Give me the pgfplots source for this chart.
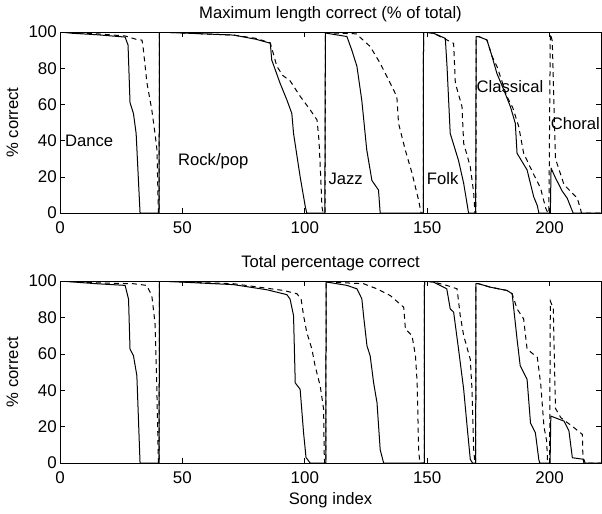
\documentclass[border=0pt]{standalone}
\usepackage{pgfplots}
\pgfplotsset{compat=1.18}
\usepackage{fontspec}
\setmainfont{Liberation Sans}
\begin{document}
\begin{tikzpicture}
\path[use as bounding box] (0,0) rectangle (602bp,-514bp);
\pgfplotsset{
  myax/.style={
    scale only axis, width=541bp,
    xmin=0, xmax=221, ymin=0, ymax=100,
    xtick={0,50,100,150,200}, ytick={0,20,40,60,80,100},
    tick align=inside, major tick length=5bp,
    xtick pos=both, ytick pos=both,
    xticklabel pos=bottom, yticklabel pos=left,
    axis line style={line width=0.6bp},
    tick style={line width=0.6bp, black},
    /pgf/number format/assume math mode=true,
    tick label style={font=\fontsize{17}{20}\selectfont},
    xticklabel style={anchor=base, yshift=-20bp, inner sep=0pt},
    yticklabel style={anchor=east, xshift=-3bp, inner sep=0pt},
    every axis title/.style={at={(0.5,1)}, anchor=base, yshift=13.5bp, font=\fontsize{16.7}{19}\selectfont},
    every axis y label/.style={at={(axis description cs:-0.0776,0.5)}, rotate=90, anchor=base, font=\fontsize{16.7}{19}\selectfont},
    every axis x label/.style={at={(axis description cs:0.5,0)}, anchor=base, yshift=-41bp, font=\fontsize{16.7}{19}\selectfont},
    ylabel={\% correct},
  },
  sol/.style={black, line width=1bp, no marks, line join=round},
  das/.style={black, line width=1bp, no marks, dash pattern=on 5bp off 4bp},
}
% ---------------- top panel ----------------
\begin{axis}[myax, height=181bp, at={(60bp,-32bp)}, anchor=north west,
  title={Maximum length correct (\% of total)}]
\addplot[sol] coordinates {
(0,100) (5,99.3) (15,98.5) (26.6,97.2) (27.8,92.8) (28.6,61) (30,55) (31.1,44) (32.7,0) (40.5,0)
(40.6,100) (43.6,99.8) (70.9,98.3) (80,96) (85.9,93.8) (86.5,84.5) (89.9,71.7) (92.7,62.4) (94.7,55) (95.4,44) (98.1,20) (100.2,3.5) (100.8,0) (108.2,0)
(108.4,100) (109,99.3) (117.2,97.5) (119.2,90) (121.3,81) (123.3,62) (125.3,35) (127.4,18) (130.1,12.7) (130.8,0) (148.4,0)
(148.5,100) (152.6,99.3) (157.4,96.5) (158.1,81) (159.4,44) (162.8,29) (164.9,16.4) (166.9,0) (169.8,0)
(170,97.5) (171,97.5) (174.4,95.6) (176.5,86.5) (178.5,77) (181.3,68) (184,58.7) (186,49.5) (186.7,33) (190.8,23.8) (193.5,9) (195,4) (195.6,0) (200.3,0)
(200.6,24.8) (202.4,19.4) (205.2,12) (207.2,8.2) (209.3,1) (209.6,0) (221,0)
};
\addplot[das] coordinates {
(0,100) (15,99) (26.6,97.8) (31,96) (33.5,95.5) (34,91) (35.5,72) (37.5,57) (38.8,44) (39.6,35) (40.2,0) (40.5,0)
(40.6,100) (43.6,99.8) (70.9,98.3) (80,96.5) (85.9,94) (88.6,81) (91,76) (94,73) (98.2,64.3) (102.2,57) (105,51.4) (105.8,40) (106.5,20) (107,3.5) (107.5,0) (108.3,0)
(108.4,100) (109,99.5) (121,99) (126.7,92) (130.8,82.7) (134.9,71.7) (137.6,64.3) (138.3,49.5) (141,35) (143.8,22) (146.5,7) (147.5,0) (148.4,0)
(148.5,100) (152.6,99.3) (157.5,96) (160.8,93.7) (161.5,71.7) (164.2,58.9) (164.9,38.5) (167.6,25.6) (169,11) (169.5,0) (169.9,0)
(170,97.5) (171,97.5) (174.4,95.6) (176.5,86.5) (178.5,81) (182.6,64.3) (185,58) (187.4,47.7) (189.4,33) (193.6,21) (196.3,13.8) (198.4,2.7) (199.3,0) (199.7,0)
(200.3,99) (201.1,95) (202.4,30) (205.9,15.6) (211.3,8.2) (212.7,1.8) (213,0) (221,0)
};
\node[anchor=west, font=\fontsize{16.7}{19}\selectfont, inner sep=0pt] at (axis cs:2,39.8) {Dance};
\node[font=\fontsize{16.7}{19}\selectfont, inner sep=0pt] at (axis cs:62.6,28.7) {Rock/pop};
\node[font=\fontsize{16.7}{19}\selectfont, inner sep=0pt] at (axis cs:116.7,18.8) {Jazz};
\node[font=\fontsize{16.7}{19}\selectfont, inner sep=0pt] at (axis cs:156.3,18.8) {Folk};
\node[font=\fontsize{16.7}{19}\selectfont, inner sep=0pt] at (axis cs:183.8,69.6) {Classical};
\node[font=\fontsize{16.7}{19}\selectfont, inner sep=0pt] at (axis cs:210.5,49.6) {Choral};
\end{axis}
% ---------------- bottom panel ----------------
\begin{axis}[myax, height=182bp, at={(60bp,-281bp)}, anchor=north west,
  title={Total percentage correct}, xlabel={Song index}]
\addplot[sol] coordinates {
(0,100) (15,98.5) (26.6,97.6) (28,90) (28.6,62.6) (30,59) (31.4,48) (32.7,0) (40.5,0)
(40.6,100) (43.6,99.8) (70.9,98) (84.5,95.2) (92.7,92.5) (94,90) (95.4,81) (96.1,44) (98.1,40.5) (99.5,16.6) (100.5,3) (102.2,0) (108.6,0)
(108.7,100) (109,99.4) (117.2,97.6) (121.3,95.7) (123.3,90.2) (124,81) (125.4,64.4) (126.7,58.9) (128.1,44.2) (129.5,33.1) (130.8,7.3) (132.2,0) (148.8,0)
(148.9,100) (152.6,99.4) (158,95.7) (159.4,84.7) (160.8,82.9) (162.8,62.6) (164.9,40.5) (166.3,20.2) (167.6,2) (168.5,0) (169.8,0)
(169.9,98.5) (171,98.5) (175.8,96.6) (182.6,94.8) (184.7,93) (186.7,68.1) (188,53.4) (190.8,46) (192.2,22) (194.2,16.6) (195.6,1.8) (196,0) (200.2,0)
(200.5,25.8) (202,25) (205.9,23) (207.9,17.6) (209.3,2.9) (214,2) (214.5,0) (221,0)
};
\addplot[das] coordinates {
(0,100) (15,99) (30,98.5) (35.4,97.6) (37.5,92) (38.8,77) (39.5,44) (40.2,0) (40.5,0)
(40.6,100) (43.6,99.8) (70.9,98.5) (91.3,94.8) (96.8,93) (98.5,90) (99.5,81) (100.8,71.8) (102.9,62.6) (104.2,53.4) (106.3,42.3) (107.7,29.4) (107.9,6.5) (108.1,0) (108.6,0)
(108.7,100) (109,99.5) (124,98.5) (129.5,95.7) (134.9,92) (140.4,85.6) (141.1,73.6) (143.8,70) (145.2,59) (145.9,44.2) (146.5,7.3) (147,0) (148.8,0)
(148.9,100) (152.6,99.4) (158,97.6) (162.2,95.7) (163.5,81) (164.9,70) (167.6,57) (168.3,40.5) (169,7.3) (169.5,0) (169.8,0)
(169.9,98.5) (171,98.5) (175.8,96.6) (182.6,94.8) (184.7,93) (186.7,84.7) (189.4,79.2) (190.8,62.6) (195,58) (196.4,43) (197.7,20) (198.8,12) (199.2,0) (200,0)
(200.3,89) (201.5,85) (202.4,30) (204.6,24.9) (210,19.4) (213.4,15.7) (213.6,2.9) (214,0) (221,0)
};
\end{axis}
\end{tikzpicture}
\end{document}
